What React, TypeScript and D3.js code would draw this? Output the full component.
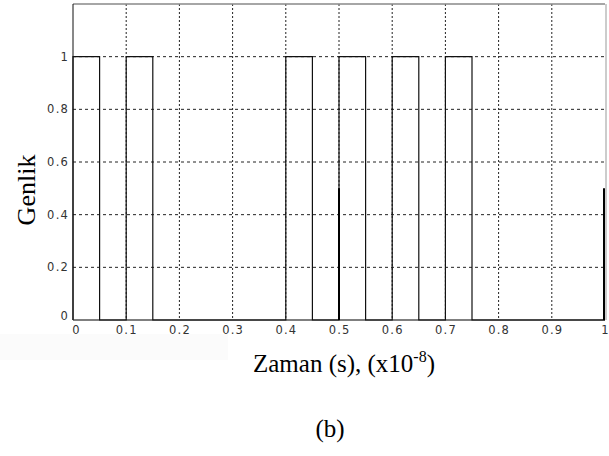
import React, { useEffect, useRef } from 'react';
import * as d3 from 'd3';

// pulse intervals (start, end) in units of 1e-8 s, amplitude 1
const pulseStarts = [0, 0.1, 0.4, 0.5, 0.6, 0.7];
const pulseEnds = [0.05, 0.15, 0.45, 0.55, 0.65, 0.75];
// isolated samples drawn at half amplitude
const halfX = [0.5, 1];
const halfY = [0.5, 0.5];

const xTicks = [0, 0.1, 0.2, 0.3, 0.4, 0.5, 0.6, 0.7, 0.8, 0.9, 1];
const yTicks = [0, 0.2, 0.4, 0.6, 0.8, 1];

const App: React.FC = () => {
  const svgRef = useRef<SVGSVGElement>(null);

  useEffect(() => {
    if (!svgRef.current) return;
    const width = 609;
    const height = 456;
    const margin = { top: 4, right: 4, bottom: 136, left: 73 };

    const svg = d3.select(svgRef.current);
    svg.selectAll('*').remove();

    const x = d3.scaleLinear().domain([0, 1]).range([margin.left, width - margin.right]);
    const y = d3.scaleLinear().domain([0, 1.2]).range([height - margin.bottom, margin.top]);

    // faint scan shading behind tick labels
    svg.append('rect')
      .attr('x', 0).attr('y', 334).attr('width', 228).attr('height', 26)
      .attr('fill', '#fbfbfb');

    // grid
    svg.append('g')
      .selectAll('line')
      .data(xTicks.slice(1, -1))
      .join('line')
      .attr('x1', d => x(d)).attr('x2', d => x(d))
      .attr('y1', y(1.2)).attr('y2', y(0))
      .attr('stroke', '#222')
      .attr('stroke-width', 1)
      .attr('stroke-dasharray', '2,2');

    svg.append('g')
      .selectAll('line')
      .data(yTicks.slice(1))
      .join('line')
      .attr('x1', x(0)).attr('x2', x(1))
      .attr('y1', d => y(d)).attr('y2', d => y(d))
      .attr('stroke', '#222')
      .attr('stroke-width', 1)
      .attr('stroke-dasharray', '3,3');

    // box
    svg.append('line')
      .attr('x1', x(0)).attr('x2', x(1)).attr('y1', y(1.2)).attr('y2', y(1.2))
      .attr('stroke', '#888').attr('stroke-width', 1.5);
    svg.append('line')
      .attr('x1', x(1) + 1).attr('x2', x(1) + 1).attr('y1', y(1.2)).attr('y2', y(0))
      .attr('stroke', '#999').attr('stroke-width', 1);
    svg.append('line')
      .attr('x1', x(0)).attr('x2', x(0)).attr('y1', y(1.2)).attr('y2', y(0))
      .attr('stroke', '#111').attr('stroke-width', 1);
    svg.append('line')
      .attr('x1', x(0)).attr('x2', x(1)).attr('y1', y(0)).attr('y2', y(0))
      .attr('stroke', '#555').attr('stroke-width', 1.5);

    // pulse train as a step line
    const pts: [number, number][] = [];
    pulseStarts.forEach((s, i) => {
      pts.push([s, 0], [s, 1], [pulseEnds[i], 1], [pulseEnds[i], 0]);
    });
    pts.push([1, 0]);
    const line = d3.line<[number, number]>().x(d => x(d[0])).y(d => y(d[1]));
    svg.append('path')
      .datum(pts)
      .attr('d', line)
      .attr('fill', 'none')
      .attr('stroke', '#111')
      .attr('stroke-width', 1.2);

    // half-amplitude samples
    svg.append('g')
      .selectAll('line')
      .data(halfX)
      .join('line')
      .attr('x1', d => x(d) - (d === 1 ? 1 : 0))
      .attr('x2', d => x(d) - (d === 1 ? 1 : 0))
      .attr('y1', y(0))
      .attr('y2', (d, i) => y(halfY[i]))
      .attr('stroke', '#000')
      .attr('stroke-width', 2);

    // tick labels
    const tickFont = 'DejaVu Sans, Verdana, sans-serif';
    const ls = 1.2;
    svg.append('g')
      .selectAll('text')
      .data(xTicks)
      .join('text')
      .attr('x', d => x(d) + ls / 2 + (d === 0 ? 3 : 0))
      .attr('y', y(0) + 14)
      .attr('text-anchor', 'middle')
      .attr('font-family', tickFont)
      .attr('font-size', 11.5)
      .attr('fill', '#333')
      .attr('letter-spacing', ls)
      .text(d => String(d));

    svg.append('g')
      .selectAll('text')
      .data(yTicks)
      .join('text')
      .attr('x', x(0) - 4)
      .attr('y', d => y(d) + (d === 0 ? 0 : 4))
      .attr('text-anchor', 'end')
      .attr('font-family', tickFont)
      .attr('font-size', 11.5)
      .attr('fill', '#333')
      .attr('letter-spacing', ls)
      .text(d => String(d));

    // axis titles
    const serif = 'Liberation Serif, Times New Roman, serif';
    svg.append('text')
      .attr('transform', `translate(35,190) rotate(-90)`)
      .attr('text-anchor', 'middle')
      .attr('font-family', serif)
      .attr('font-size', 26)
      .attr('fill', '#000')
      .text('Genlik');

    const xl = svg.append('text')
      .attr('x', x(0.5) + 5)
      .attr('y', 372)
      .attr('text-anchor', 'middle')
      .attr('font-family', serif)
      .attr('font-size', 25)
      .attr('fill', '#000');
    xl.append('tspan').text('Zaman (s), (x10');
    xl.append('tspan').attr('dy', -10).attr('font-size', 16).text('-8');
    xl.append('tspan').attr('dy', 10).text(')');

    svg.append('text')
      .attr('x', 330)
      .attr('y', 437)
      .attr('text-anchor', 'middle')
      .attr('font-family', serif)
      .attr('font-size', 25)
      .attr('fill', '#000')
      .text('(b)');
  }, []);

  return (
    <svg
      ref={svgRef}
      width={609}
      height={456}
      style={{ position: 'absolute', left: 0, top: 0, background: '#fff' }}
    />
  );
};

export default App;
